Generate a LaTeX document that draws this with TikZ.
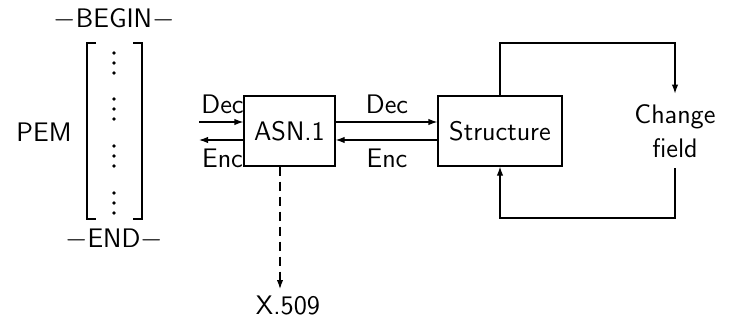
\documentclass[tikz,border=0pt]{standalone}
\usetikzlibrary{arrows.meta}
\renewcommand{\familydefault}{\sfdefault}
\begin{document}
\begin{tikzpicture}[x=0.5pt,y=-0.5pt,
  every node/.style={font=\fontsize{13.4}{17}\selectfont},
  box/.style={draw, line width=0.6pt, inner sep=0pt, minimum height=35pt},
  lbl/.style={inner sep=0pt},
  arr/.style={line width=0.6pt, -{Latex[length=4.5pt,width=3.2pt]}},
  brk/.style={line width=1.2pt},
  dotmark/.style={circle, fill, inner sep=0pt, minimum size=1.9pt}]
\useasboundingbox (0,0) rectangle (731,320);

% PEM block with its bracketed body
\node[lbl] (pem) at (44,132) {PEM};
\node[lbl] (begin) at (114,19) {$-$BEGIN$-$};
\node[lbl] (end) at (114,239) {$-$END$-$};
\draw[brk] (96,43) -- (87,43) -- (87,219) -- (96,219);
\draw[brk] (133,43) -- (142,43) -- (142,219) -- (133,219);
\foreach \c [count=\i] in {63,109,156,203}{
  \foreach \d [count=\j] in {-10,0,10}{
    \node[dotmark] (dot\i\j) at (114,\c+\d) {};
  }
}

% processing boxes
\node[box, minimum width=45.5pt] (asn) at (289.5,131) {ASN.1};
\node[box, minimum width=62pt] (str) at (500,131) {Structure};
\node[inner sep=0pt, minimum height=37pt, align=center] (chg) at (675,131) {Change\\field};
\node[inner sep=3pt] (x509) at (288,305) {X.509};

% input / output of the ASN.1 stage
\coordinate (decin) at (199,122);
\coordinate (encout) at (199,140);
\draw[arr] (decin) -- (asn.west |- decin);
\draw[arr] (asn.west |- encout) -- (encout);
\node[lbl] (dec1) at (222.5,104) {Dec};
\node[lbl] (enc1) at (222.5,158) {Enc};

% ASN.1 <-> Structure
\draw[arr] ([yshift=4.5pt]asn.east) -- ([yshift=4.5pt]str.west);
\draw[arr] ([yshift=-4.5pt]str.west) -- ([yshift=-4.5pt]asn.east);
\node[lbl] (dec2) at (387,104) {Dec};
\node[lbl] (enc2) at (387,158) {Enc};

% certificate output
\draw[arr, dashed, dash pattern=on 4.5pt off 3pt]
  ([xshift=-4.75pt]asn.south) -- ([xshift=-4.75pt]asn.south |- x509.north);

% edit loop
\coordinate (looptop) at (675,43);
\coordinate (loopbot) at (675,218);
\draw[arr] (str.north) |- (looptop) -- (chg.north);
\draw[arr] (chg.south) -- (loopbot) -| (str.south);
\end{tikzpicture}
\end{document}
